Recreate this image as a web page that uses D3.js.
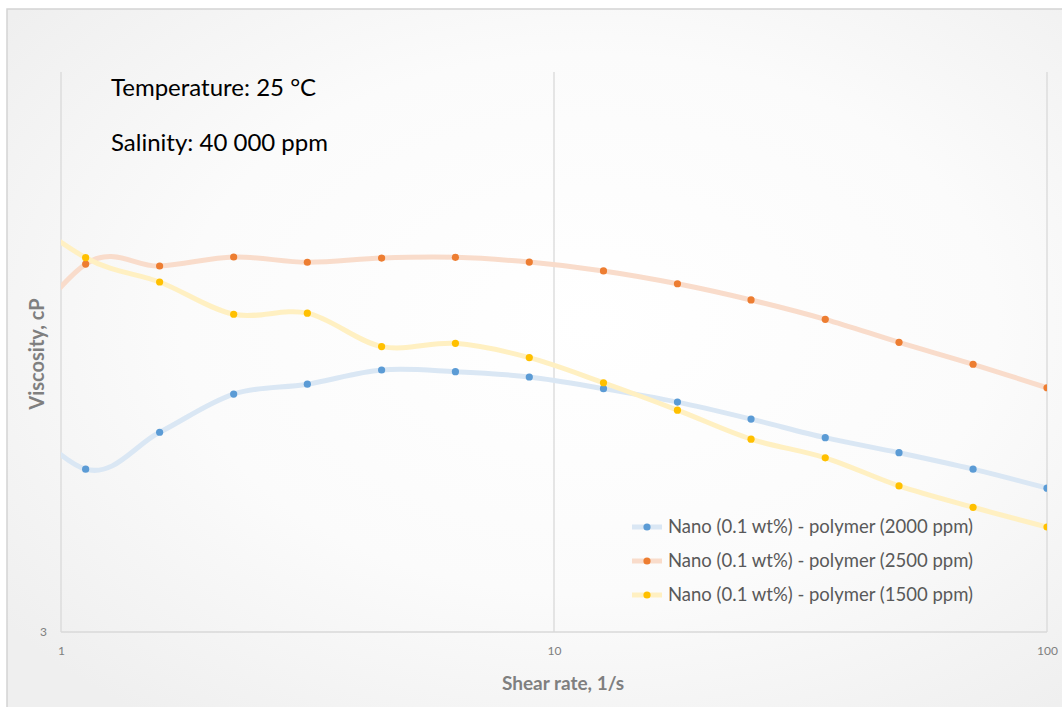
<!DOCTYPE html>
<html>
<head>
<meta charset="utf-8">
<script src="https://cdn.jsdelivr.net/npm/d3@7"></script>
<style>
  html, body { margin: 0; padding: 0; background: #ffffff; }
  svg { display: block; }
</style>
</head>
<body>
<svg id="chart" width="1062" height="707"></svg>
<script>
// Shear rates (1/s); the first value lies just left of the axis minimum and is clipped
const shearRates = [0.708, 1.122, 1.585, 2.24, 3.16, 4.47, 6.31, 8.91, 12.6, 17.8, 25.1, 35.5, 50.1, 70.8, 100];

// Viscosity (cP) for each sample
const visc2000 = [8.3, 5.86, 6.82, 7.98, 8.31, 8.81, 8.75, 8.56, 8.16, 7.72, 7.20, 6.67, 6.27, 5.86, 5.42];
const visc2500 = [8.5, 13.62, 13.51, 14.02, 13.72, 13.96, 14.00, 13.73, 13.24, 12.56, 11.75, 10.85, 9.87, 9.02, 8.19];
const visc1500 = [18.6, 13.98, 12.65, 11.08, 11.13, 9.70, 9.83, 9.27, 8.36, 7.47, 6.63, 6.14, 5.47, 5.01, 4.62];

const seriesNames = [
  "Nano (0.1 wt%) - polymer (2000 ppm)",
  "Nano (0.1 wt%) - polymer (2500 ppm)",
  "Nano (0.1 wt%) - polymer (1500 ppm)"
];
const seriesValues = [visc2000, visc2500, visc1500];
const markerColors = ["#5b9bd5", "#ed7d31", "#ffc000"];
const lineColors = ["#dae7f4", "#f9dccb", "#fff0c2"];

const xTicks = [1, 10, 100];
const yTicks = [3];

const notes = ["Temperature: 25 °C", "Salinity: 40 000 ppm"];

const svg = d3.select("#chart");
const W = 1062, H = 707;
const plot = { left: 61, right: 1047, top: 72, bottom: 632 };
const font = "Lato, 'Open Sans', sans-serif";

// background panel with soft radial shading
const defs = svg.append("defs");
const grad = defs.append("radialGradient").attr("id", "bg")
  .attr("cx", "55%").attr("cy", "45%").attr("r", "70%");
grad.append("stop").attr("offset", "0%").attr("stop-color", "#ffffff");
grad.append("stop").attr("offset", "55%").attr("stop-color", "#fbfbfb");
grad.append("stop").attr("offset", "100%").attr("stop-color", "#efefef");

svg.append("rect").attr("x", 7).attr("y", 9).attr("width", W - 4).attr("height", H - 7)
  .attr("fill", "url(#bg)").attr("stroke", "#d4d4d4").attr("stroke-width", 1.5);

defs.append("clipPath").attr("id", "plotClip").append("rect")
  .attr("x", plot.left).attr("y", plot.top)
  .attr("width", plot.right - plot.left).attr("height", plot.bottom - plot.top);

const x = d3.scaleLog().domain([1, 100]).range([plot.left, plot.right]);
const y = d3.scaleLog().domain([3, 30]).range([plot.bottom, plot.top]);

// vertical gridlines at each decade
svg.append("g").selectAll("line").data(xTicks).join("line")
  .attr("x1", d => x(d)).attr("x2", d => x(d))
  .attr("y1", plot.top).attr("y2", plot.bottom)
  .attr("stroke", "#d9d9d9").attr("stroke-width", 1.3);

// bottom axis line
svg.append("line")
  .attr("x1", plot.left).attr("x2", plot.right)
  .attr("y1", plot.bottom).attr("y2", plot.bottom)
  .attr("stroke", "#d9d9d9").attr("stroke-width", 1.3);

// x axis tick labels
const xAxis = d3.axisBottom(x).tickValues(xTicks).tickFormat(d3.format("d")).tickSize(0).tickPadding(14);
const gx = svg.append("g").attr("transform", `translate(0,${plot.bottom})`).call(xAxis);
gx.select(".domain").remove();
gx.selectAll("text").attr("fill", "#7f7f7f").attr("font-size", 12).attr("font-family", font);

// y axis tick labels
const yAxis = d3.axisLeft(y).tickValues(yTicks).tickFormat(d3.format("d")).tickSize(0).tickPadding(14);
const gy = svg.append("g").attr("transform", `translate(${plot.left},0)`).call(yAxis);
gy.select(".domain").remove();
gy.selectAll("text").attr("fill", "#7f7f7f").attr("font-size", 12).attr("font-family", font);

// axis titles
svg.append("text").attr("x", 563).attr("y", 690)
  .attr("text-anchor", "middle").attr("font-family", font).attr("font-weight", "bold")
  .attr("font-size", 19).attr("fill", "#7f7f7f").text("Shear rate, 1/s");
svg.append("text").attr("transform", "translate(44,354) rotate(-90)")
  .attr("text-anchor", "middle").attr("font-family", font).attr("font-weight", "bold")
  .attr("font-size", 20).attr("fill", "#7f7f7f").text("Viscosity, cP");

// condition notes
svg.append("g").selectAll("text").data(notes).join("text")
  .attr("x", 111).attr("y", (d, i) => 96 + i * 55)
  .attr("font-family", font).attr("font-size", 24).attr("fill", "#000")
  .text(d => d);

// smoothed series lines and markers
const line = d3.line()
  .x((d, i) => x(shearRates[i]))
  .y(d => y(d))
  .curve(d3.curveCardinal.tension(0));

const seriesG = svg.append("g").attr("clip-path", "url(#plotClip)");
seriesValues.forEach((vals, s) => {
  seriesG.append("path").datum(vals)
    .attr("d", line).attr("fill", "none")
    .attr("stroke", lineColors[s]).attr("stroke-width", 5)
    .attr("stroke-linecap", "round").attr("stroke-linejoin", "round");
});
seriesValues.forEach((vals, s) => {
  seriesG.append("g").selectAll("circle").data(vals).join("circle")
    .attr("cx", (d, i) => x(shearRates[i])).attr("cy", d => y(d))
    .attr("r", 3.6).attr("fill", markerColors[s]);
});

// legend
const legend = svg.append("g").attr("transform", "translate(632,527)");
seriesNames.forEach((name, s) => {
  const g = legend.append("g").attr("transform", `translate(0,${s * 34})`);
  g.append("line").attr("x1", 0).attr("x2", 30).attr("y1", 0).attr("y2", 0)
    .attr("stroke", lineColors[s]).attr("stroke-width", 5);
  g.append("circle").attr("cx", 15).attr("cy", 0).attr("r", 3.6).attr("fill", markerColors[s]);
  g.append("text").attr("x", 36).attr("y", 0).attr("dy", "0.35em")
    .attr("font-family", font).attr("font-size", 18.5).attr("fill", "#595959").text(name);
});
</script>
</body>
</html>
